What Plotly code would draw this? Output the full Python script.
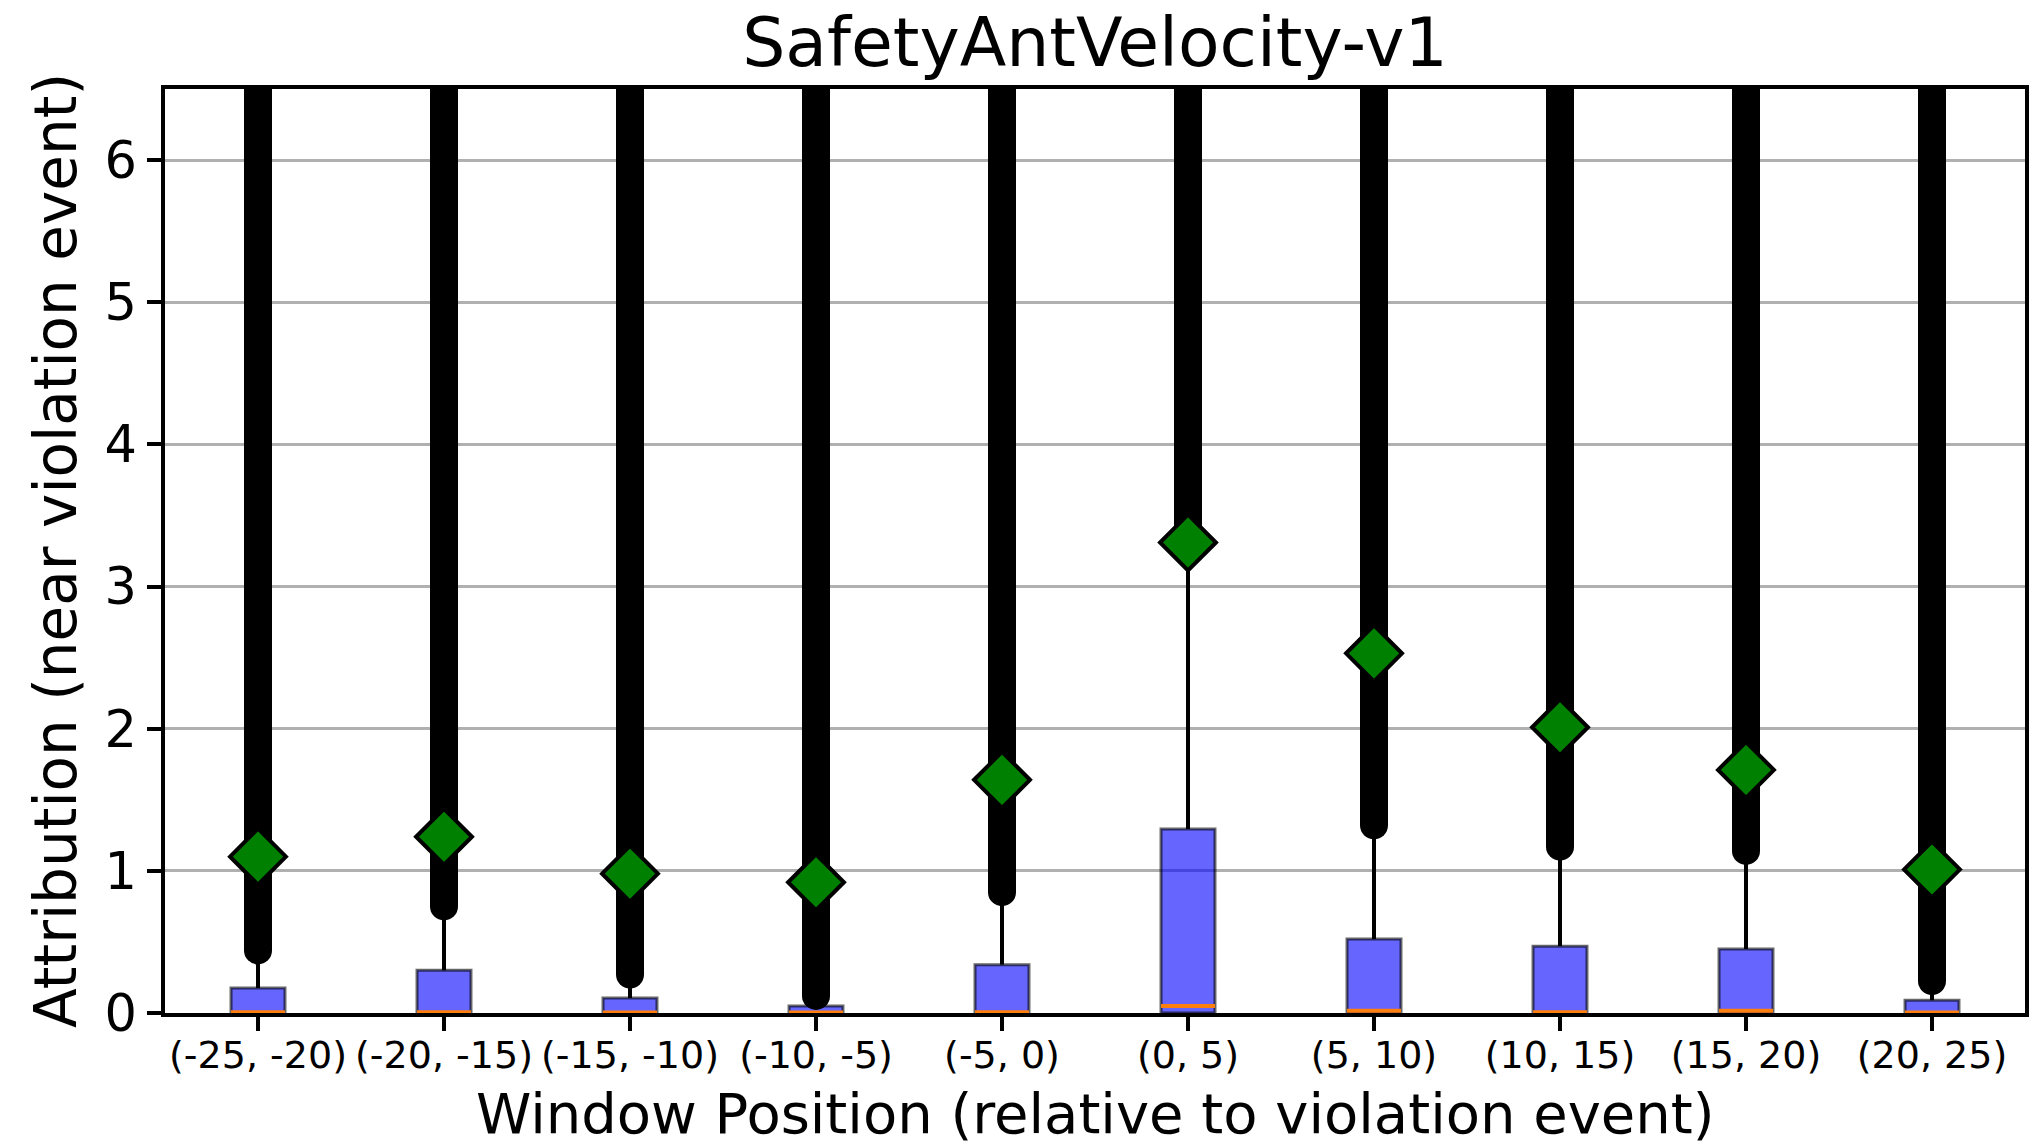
import plotly.graph_objects as go

# ---- data ----
categories = ["(-25, -20)", "(-20, -15)", "(-15, -10)", "(-10, -5)", "(-5, 0)",
              "(0, 5)", "(5, 10)", "(10, 15)", "(15, 20)", "(20, 25)"]
q1 = [0.0, 0.0, 0.0, 0.0, 0.0, 0.0, 0.0, 0.0, 0.0, 0.0]
median = [0.005, 0.005, 0.004, 0.003, 0.006, 0.05, 0.015, 0.006, 0.015, 0.004]
q3 = [0.176, 0.30, 0.105, 0.05, 0.34, 1.295, 0.52, 0.47, 0.45, 0.09]
whisker_hi = [0.42, 0.73, 0.25, 0.11, 0.83, 3.24, 1.29, 1.16, 1.12, 0.22]
flier_lo = [0.44, 0.75, 0.27, 0.12, 0.85, 3.30, 1.32, 1.17, 1.14, 0.225]
flier_hi = [7.5, 7.5, 7.5, 7.5, 7.5, 7.5, 7.5, 7.5, 7.5, 7.5]
mean = [1.10, 1.24, 0.98, 0.92, 1.64, 3.31, 2.53, 2.01, 1.71, 1.01]
y_ticks = [0, 1, 2, 3, 4, 5, 6]

x_title = "Window Position (relative to violation event)"
y_title = "Attribution (near violation event)"

x_pos = list(range(len(categories)))
box_w = 0.29

fig = go.Figure()

# boxes (Q1 -> Q3)
fig.add_trace(go.Bar(
    x=x_pos, y=[b - a for a, b in zip(q1, q3)], base=q1, width=box_w,
    marker=dict(color="rgba(0,0,255,0.6)",
                line=dict(color="rgba(0,0,0,0.6)", width=3)),
    hoverinfo="skip"))

# whiskers
wx, wy = [], []
for i in x_pos:
    wx += [i, i, None]
    wy += [q3[i], whisker_hi[i], None]
fig.add_trace(go.Scatter(x=wx, y=wy, mode="lines",
                         line=dict(color="black", width=4), hoverinfo="skip"))

# fliers (dense outlier columns)
fx, fy = [], []
for i in x_pos:
    fx += [i, i, None]
    fy += [flier_lo[i], flier_hi[i], None]
fig.add_trace(go.Scatter(x=fx, y=fy, mode="lines",
                         line=dict(color="black", width=28), hoverinfo="skip"))
fig.add_trace(go.Scatter(x=x_pos, y=flier_lo, mode="markers",
                         marker=dict(symbol="circle", size=28, color="black"),
                         hoverinfo="skip"))

# medians
mx, my = [], []
for i in x_pos:
    mx += [i - box_w / 2, i + box_w / 2, None]
    my += [median[i], median[i], None]
fig.add_trace(go.Scatter(x=mx, y=my, mode="lines",
                         line=dict(color="#ff7f0e", width=4), hoverinfo="skip"))

# means
fig.add_trace(go.Scatter(
    x=x_pos, y=mean, mode="markers",
    marker=dict(symbol="diamond", size=43, color="#008000",
                line=dict(color="black", width=4))))

fig.update_layout(
    width=2036, height=1146,
    margin=dict(l=165, r=11, t=89, b=133),
    plot_bgcolor="white", paper_bgcolor="white",
    showlegend=False,
    font=dict(family="DejaVu Sans", color="black"),
    title=dict(text="SafetyAntVelocity-v1", x=0.5, xref="paper",
               y=1 - 42 / 1146, yref="container", yanchor="middle",
               xanchor="center", font=dict(size=68, color="black")),
    annotations=[
        dict(text=x_title, xref="paper", yref="paper", x=0.5, y=0,
             xanchor="center", yanchor="middle", yshift=-100, showarrow=False,
             font=dict(size=56, color="black")),
        dict(text=y_title, xref="paper", yref="paper", x=0, y=0.5,
             xanchor="center", yanchor="middle", xshift=-109, showarrow=False,
             textangle=-90, font=dict(size=58, color="black")),
    ],
)
fig.update_xaxes(
    range=[-0.5, 9.5], tickvals=x_pos, ticktext=categories, tickangle=0,
    automargin=False, ticklabelstandoff=-8,
    ticks="outside", ticklen=14, tickwidth=3.5, tickcolor="black",
    showline=True, linewidth=3.5, linecolor="black", mirror=True,
    showgrid=False, zeroline=False,
    tickfont=dict(size=38, color="black"))
fig.update_yaxes(
    range=[0, 6.5], tickvals=y_ticks, automargin=False,
    ticks="outside", ticklen=14, tickwidth=3.5, tickcolor="black",
    showline=True, linewidth=3.5, linecolor="black", mirror=True,
    showgrid=True, gridcolor="#b0b0b0", gridwidth=3, zeroline=False,
    tickfont=dict(size=51, color="black"))

fig.write_html("out.html")
